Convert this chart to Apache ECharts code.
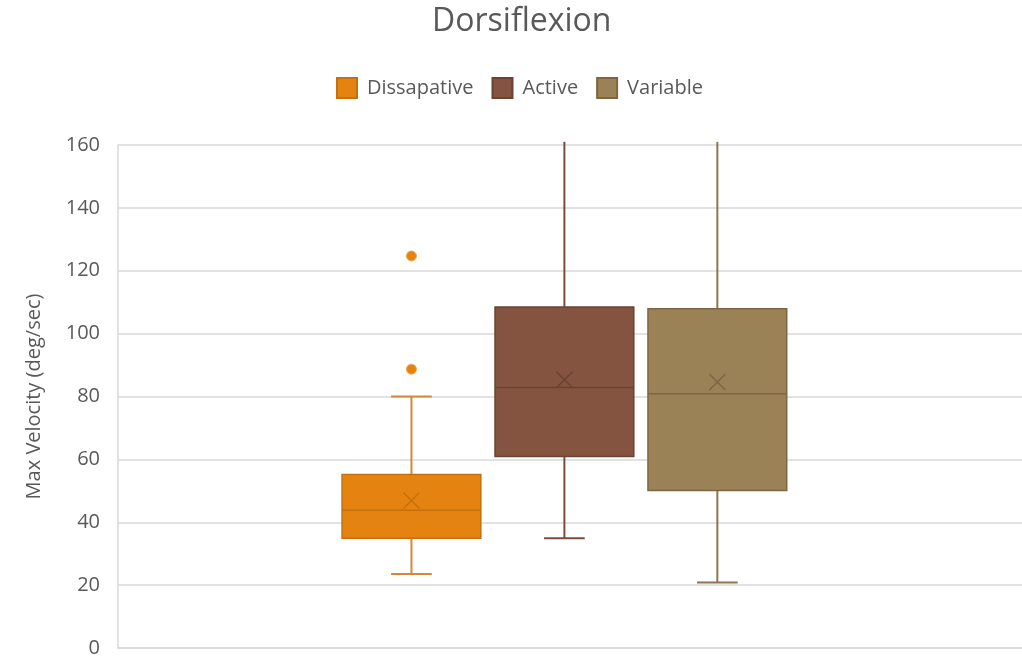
<!DOCTYPE html>
<html>
<head>
<meta charset="utf-8">
<title>Dorsiflexion</title>
<script src="https://cdn.jsdelivr.net/npm/echarts@6/dist/echarts.min.js"></script>
<style>
  html, body { margin: 0; padding: 0; background: #fff; }
  #chart { width: 1022px; height: 660px; }
</style>
</head>
<body>
<div id="chart"></div>
<script>
// Data
var groups = ['Dissapative', 'Active', 'Variable'];
var whiskerLow = [23.5, 34.9, 20.8];
var q1 = [34.9, 60.9, 50.1];
var medians = [43.8, 82.9, 80.9];
var q3 = [55.2, 108.5, 107.9];
var whiskerHigh = [80.0, 161, 161];
var means = [46.9, 85.3, 84.6];
var outliers = [[124.7, 88.7], [], []];
var yTicks = [0, 20, 40, 60, 80, 100, 120, 140, 160];

// Colors
var fills = ['#e4830f', '#855440', '#9b8156'];
var borders = ['#c4700e', '#6a4332', '#7d6743'];
var whiskerColors = ['#d3883a', '#7a4d3b', '#8c7550'];

// Layout fractions of the category band
var SPACING = 0.1692, BOX = 0.1535, CAP = 0.045, SHIFT = -0.0062;

var FONT = '"Open Sans", sans-serif';

function makeSeries(i) {
    return {
        name: groups[i],
        type: 'custom',
        itemStyle: { color: fills[i], borderColor: borders[i], borderWidth: 1 },
        encode: { x: 0, y: [1, 2, 3, 4, 5] },
        data: [[0, whiskerLow[i], q1[i], medians[i], q3[i], whiskerHigh[i], means[i]]],
        renderItem: function (params, api) {
            var cat = api.value(0);
            var band = api.size([1, 0])[0];
            var cx = api.coord([cat, 0])[0] + band * (SHIFT + (i - 1) * SPACING);
            var y = function (v) { return api.coord([cat, v])[1]; };
            var hw = band * BOX / 2, hc = band * CAP / 2;
            var wStyle = { stroke: whiskerColors[i], lineWidth: 2 };
            var yLo = y(api.value(1)), yQ1 = y(api.value(2)), yMed = y(api.value(3));
            var yQ3 = y(api.value(4)), yHi = y(api.value(5)), yMean = y(api.value(6));
            var children = [
                { type: 'line', shape: { x1: cx, y1: yQ1, x2: cx, y2: yLo }, style: wStyle },
                { type: 'line', shape: { x1: cx, y1: yQ3, x2: cx, y2: yHi }, style: wStyle },
                { type: 'line', shape: { x1: cx - hc, y1: yLo, x2: cx + hc, y2: yLo }, style: wStyle },
                { type: 'rect', shape: { x: cx - hw, y: yQ3, width: hw * 2, height: yQ1 - yQ3 },
                  style: { fill: fills[i], stroke: borders[i], lineWidth: 1.5 } },
                { type: 'line', shape: { x1: cx - hw, y1: yMed, x2: cx + hw, y2: yMed },
                  style: { stroke: borders[i], lineWidth: 1.5 } },
                { type: 'line', shape: { x1: cx - 8, y1: yMean - 8, x2: cx + 8, y2: yMean + 8 },
                  style: { stroke: borders[i], lineWidth: 1.5 } },
                { type: 'line', shape: { x1: cx - 8, y1: yMean + 8, x2: cx + 8, y2: yMean - 8 },
                  style: { stroke: borders[i], lineWidth: 1.5 } }
            ];
            if (api.value(5) < 160) {
                children.push({ type: 'line', shape: { x1: cx - hc, y1: yHi, x2: cx + hc, y2: yHi }, style: wStyle });
            }
            outliers[i].forEach(function (v) {
                children.push({ type: 'circle', shape: { cx: cx, cy: y(v), r: 5 },
                    style: { fill: fills[i], stroke: '#f0a75a', lineWidth: 1 } });
            });
            return { type: 'group', children: children };
        }
    };
}

var option = {
    animation: false,
    textStyle: { fontFamily: FONT },
    title: {
        text: 'Dorsiflexion',
        left: 427,
        top: 1,
        textStyle: { fontFamily: FONT, fontSize: 32, fontWeight: 'normal', color: '#595959' }
    },
    legend: {
        data: groups,
        top: 72,
        left: 331,
        icon: 'rect',
        itemWidth: 20,
        itemHeight: 20,
        itemGap: 18,
        textStyle: { fontFamily: FONT, fontSize: 20, color: '#595959', padding: [0, 0, 0, 5] }
    },
    grid: { left: 118, right: 0, top: 145, bottom: 12 },
    xAxis: {
        type: 'category',
        data: ['Dorsiflexion'],
        axisLine: { show: true, lineStyle: { color: '#d9d9d9', width: 1.5 } },
        axisTick: { show: false },
        axisLabel: { show: false }
    },
    yAxis: {
        type: 'value',
        min: yTicks[0],
        max: yTicks[yTicks.length - 1],
        interval: 20,
        name: 'Max Velocity (deg/sec)',
        nameLocation: 'middle',
        nameGap: 74,
        nameTextStyle: { fontFamily: FONT, fontSize: 20, color: '#595959' },
        axisLine: { show: true, lineStyle: { color: '#d9d9d9', width: 1.5 } },
        axisTick: { show: false },
        axisLabel: { fontFamily: FONT, fontSize: 20, color: '#595959', margin: 18 },
        splitLine: { lineStyle: { color: '#d9d9d9', width: 1.5 } }
    },
    series: groups.map(function (g, i) { return makeSeries(i); })
};

var chart = echarts.init(document.getElementById('chart'));
chart.setOption(option);
</script>
</body>
</html>
